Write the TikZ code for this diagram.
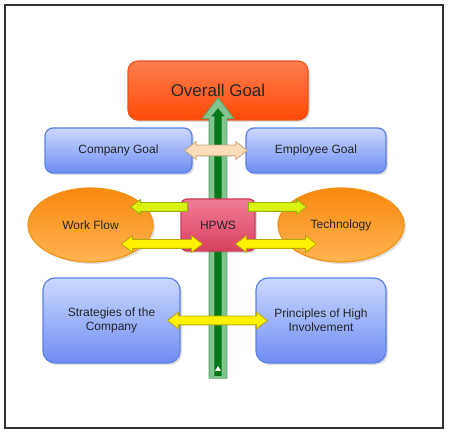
\documentclass[tikz,border=0pt]{standalone}
\usepackage{fontspec}
\setmainfont{Liberation Sans}
\usetikzlibrary{shapes.geometric,shapes.arrows,shadows,calc}
\definecolor{bluetop}{HTML}{CCD8FF}
\definecolor{bluebot}{HTML}{6E8DF2}
\definecolor{blueline}{HTML}{5C7FE8}
\definecolor{redtop}{HTML}{FF7E50}
\definecolor{redbot}{HTML}{FF4A05}
\definecolor{redline}{HTML}{E8531F}
\definecolor{orangetop}{HTML}{F7880E}
\definecolor{orangebot}{HTML}{FFB552}
\definecolor{orangeline}{HTML}{F29418}
\definecolor{pinktop}{HTML}{F27C96}
\definecolor{pinkbot}{HTML}{D8405F}
\definecolor{pinkline}{HTML}{CC3A5A}
\definecolor{greenlight}{HTML}{82C48E}
\definecolor{greenline}{HTML}{5BA36A}
\definecolor{greendark}{HTML}{00781A}
\definecolor{peachfill}{HTML}{FCDDB8}
\definecolor{peachline}{HTML}{C9A57F}
\definecolor{limefill}{HTML}{D9F20F}
\definecolor{limeline}{HTML}{9AAE10}
\definecolor{yellowfill}{HTML}{FFF200}
\definecolor{yellowline}{HTML}{B8A800}
\tikzset{
  txt/.style={text=black!85, align=center, font=\fontsize{12}{14}\selectfont},
  shade/.style={drop shadow={opacity=0.25, shadow xshift=2pt, shadow yshift=-2pt}},
  goalbox/.style={txt, shade, rectangle, rounded corners=8pt, draw=blueline, line width=1.2pt,
    top color=bluetop, bottom color=bluebot},
  bigbox/.style={goalbox, rounded corners=12pt},
  topbox/.style={shade, rectangle, rounded corners=10pt, draw=redline, line width=1.2pt,
    top color=redtop, bottom color=redbot, text=black!85, font=\fontsize{17}{20}\selectfont},
  factor/.style={txt, shade, ellipse, draw=orangeline, line width=1.2pt,
    top color=orangetop, bottom color=orangebot},
  hub/.style={txt, shade, rectangle, rounded corners=6pt, draw=pinkline, line width=1.2pt,
    top color=pinktop, bottom color=pinkbot},
  dbl/.style={double arrow, inner xsep=0pt, inner ysep=4pt, line width=0.8pt,
    double arrow head extend=4pt, double arrow tip angle=75},
  sgl/.style={single arrow, inner xsep=0pt, inner ysep=4pt, line width=0.8pt,
    single arrow head extend=3pt, single arrow tip angle=75},
  peacharrow/.style={dbl, draw=peachline, fill=peachfill, inner ysep=5pt, double arrow head extend=3.5pt},
  yellowarrow/.style={dbl, draw=yellowline, fill=yellowfill},
  limearrow/.style={sgl, draw=limeline, fill=limefill},
  upouter/.style={single arrow, inner xsep=0pt, inner ysep=8.5pt, line width=0.8pt, draw=greenline,
    fill=greenlight, single arrow head extend=7pt, single arrow tip angle=75},
  upinner/.style={single arrow, inner xsep=0pt, inner ysep=3.5pt, fill=greendark,
    single arrow head extend=3pt, single arrow tip angle=80}
}
\newcommand{\blockarrow}[4]{%
  \path let \p1=#3, \p2=#4, \n1={veclen(\x2-\x1,\y2-\y1)}, \n2={atan2(\y2-\y1,\x2-\x1)} in
    node[#1, minimum height=\n1, rotate=\n2] (#2) at ($(\p1)!0.5!(\p2)$) {};}
\begin{document}
\begin{tikzpicture}[x=1pt,y=-1pt]
  \useasboundingbox (0,0) rectangle (450,435);
  \draw[black!80, line width=1.5pt] (5,5) rectangle (443,428);
  \node[topbox, minimum width=180pt, minimum height=59pt] (overall) at (218,90.5) {Overall Goal};
  \node[goalbox, minimum width=147pt, minimum height=45pt] (cgoal) at (118.5,150.5) {Company Goal};
  \node[goalbox, minimum width=140pt, minimum height=45pt] (egoal) at (316,150.5) {Employee Goal};
  \node[factor, minimum width=125pt, minimum height=74pt] (flow) at (90.5,225) {Work Flow};
  \node[factor, minimum width=126pt, minimum height=74pt] (tech) at (341,225) {Technology};
  \node[bigbox, minimum width=137pt, minimum height=85pt] (strat) at (111.5,320.5) {Strategies of the\\Company};
  \node[bigbox, minimum width=130pt, minimum height=85pt] (princ) at (321,320.5) {Principles of High\\Involvement};
  \coordinate (gbase) at (218,384);
  \coordinate (gbasein) at (218,378);
  \blockarrow{upouter}{upout}{(gbase)}{([shift={(0,-17)}]overall.south)}
  \blockarrow{upinner}{upin}{(gbasein)}{([shift={(0,-10)}]overall.south)}
  \fill[white] (215,371) -- (221,371) -- (218,366) -- cycle;
  \node[hub, minimum width=74pt, minimum height=52pt] (hpws) at (218,225) {HPWS};
  \blockarrow{peacharrow}{goals}{([shift={(-8,0)}]cgoal.east)}{([shift={(2,0)}]egoal.west)}
  \blockarrow{limearrow}{toflow}{([shift={(10,-18)}]hpws.west)}{([shift={(-20,-18)}]flow.east)}
  \blockarrow{limearrow}{totech}{([shift={(-10,-18)}]hpws.east)}{([shift={(26,-18)}]tech.west)}
  \blockarrow{yellowarrow}{flowhub}{([shift={(-32,19)}]flow.east)}{([shift={(22,19)}]hpws.west)}
  \blockarrow{yellowarrow}{hubtech}{([shift={(-20,19)}]hpws.east)}{([shift={(39,19)}]tech.west)}
  \blockarrow{yellowarrow}{stratprinc}{([shift={(-13,0)}]strat.east)}{([shift={(12,0)}]princ.west)}
\end{tikzpicture}
\end{document}
